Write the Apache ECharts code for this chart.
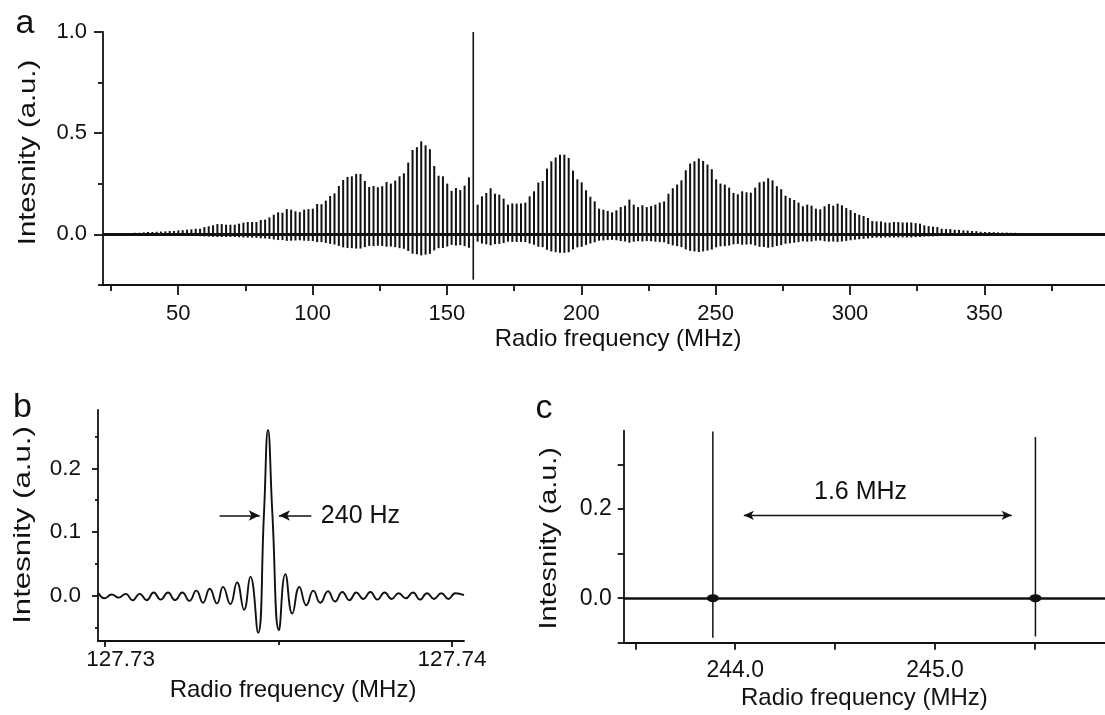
<!DOCTYPE html>
<html>
<head>
<meta charset="utf-8">
<script src="https://cdn.jsdelivr.net/npm/echarts@6.0.0/dist/echarts.min.js"></script>
<style>
html,body{margin:0;padding:0;background:#fff;}
#chart{width:1105px;height:715px;}
</style>
</head>
<body>
<div id="chart"></div>
<script>
// ---------------- Panel a: comb spectrum ----------------
const combStartMHz = 22.61;     // first comb line
const combSpacingMHz = 1.614;   // comb line spacing (1.6 MHz)
// positive excursion of each comb line (a.u.), ascending frequency; null = carrier position
const combTop = [
  0.004,0.004,0.004,0.005,0.005,0.006,0.007,0.008,0.008,0.010,
  0.012,0.012,0.013,0.014,0.015,0.017,0.017,0.020,0.021,0.023,
  0.025,0.028,0.028,0.036,0.040,0.045,0.051,0.051,0.048,0.048,
  0.048,0.053,0.058,0.061,0.061,0.061,0.071,0.073,0.084,0.097,
  0.109,0.107,0.125,0.122,0.114,0.110,0.122,0.125,0.127,0.150,
  0.149,0.167,0.190,0.203,0.239,0.269,0.284,0.287,0.299,0.299,
  0.264,0.234,0.239,0.233,0.238,0.259,0.251,0.266,0.287,0.302,
  0.355,0.417,0.431,0.460,0.440,0.421,0.338,0.290,0.287,
  0.251,0.215,0.229,0.219,0.241,0.282,
  null,
  0.147,0.188,0.205,0.228,0.201,0.196,0.177,0.147,0.153,0.152,
  0.153,0.157,0.188,0.213,0.256,0.264,0.325,0.361,0.380,0.394,
  0.394,0.378,0.315,0.272,0.257,0.218,0.186,0.163,0.127,0.122,
  0.116,0.109,
  0.119,0.135,0.142,0.172,0.147,0.135,0.144,0.135,0.140,0.147,
  0.157,0.163,0.201,0.228,0.246,0.267,0.317,0.350,0.361,0.375,
  0.363,0.345,0.322,0.272,0.251,0.246,0.231,0.205,0.198,0.213,
  0.208,0.206,0.231,0.257,0.261,0.277,0.267,0.238,0.223,
  0.191,0.180,0.170,0.157,0.139,0.147,0.142,0.127,0.124,0.139,
  0.150,0.142,0.152,0.144,0.130,0.120,0.106,0.097,0.091,0.081,
  0.066,0.064,0.064,0.059,0.058,0.061,0.061,0.059,0.059,0.059,
  0.056,0.053,0.045,0.041,0.038,0.036,0.028,0.026,0.026,
  0.023,0.022,0.020,0.019,0.017,0.016,0.013,0.012,0.012,0.011,
  0.010,0.009,0.009,0.008,0.008,0.007,0.007,0.006,0.006,0.006,
  0.005,0.005,0.005,0.004,0.004,0.004,0.004,0.003,0.003,0.003,
  0.003,0.003,0.002,0.002,0.002
];
// negative excursion of each comb line (a.u.)
const combBottom = [
  -0.002,-0.002,-0.002,-0.002,-0.002,-0.002,-0.003,-0.003,-0.003,-0.003,
  -0.004,-0.004,-0.004,-0.005,-0.005,-0.005,-0.006,-0.006,-0.007,-0.007,
  -0.008,-0.008,-0.009,-0.010,-0.011,-0.012,-0.013,-0.013,-0.013,-0.013,
  -0.013,-0.014,-0.015,-0.016,-0.016,-0.017,-0.019,-0.020,-0.022,-0.025,
  -0.028,-0.028,-0.032,-0.031,-0.030,-0.029,-0.031,-0.032,-0.033,-0.038,
  -0.038,-0.042,-0.047,-0.050,-0.057,-0.064,-0.067,-0.068,-0.070,-0.070,
  -0.063,-0.057,-0.058,-0.056,-0.057,-0.061,-0.060,-0.063,-0.068,-0.071,
  -0.082,-0.095,-0.098,-0.104,-0.100,-0.096,-0.079,-0.068,-0.067,
  -0.060,-0.052,-0.055,-0.053,-0.058,-0.066,
  null,
  -0.036,-0.045,-0.049,-0.054,-0.048,-0.047,-0.043,-0.036,-0.037,-0.037,
  -0.037,-0.038,-0.045,-0.051,-0.061,-0.063,-0.076,-0.084,-0.088,-0.091,
  -0.091,-0.088,-0.074,-0.064,-0.061,-0.052,-0.045,-0.039,-0.031,-0.030,
  -0.028,-0.027,
  -0.029,-0.033,-0.035,-0.041,-0.036,-0.033,-0.035,-0.033,-0.034,-0.036,
  -0.038,-0.039,-0.048,-0.054,-0.058,-0.063,-0.074,-0.081,-0.084,-0.087,
  -0.084,-0.080,-0.075,-0.064,-0.059,-0.058,-0.055,-0.049,-0.047,-0.051,
  -0.050,-0.049,-0.055,-0.061,-0.062,-0.066,-0.063,-0.057,-0.053,
  -0.046,-0.044,-0.041,-0.038,-0.034,-0.036,-0.035,-0.031,-0.030,-0.034,
  -0.036,-0.035,-0.037,-0.035,-0.032,-0.029,-0.026,-0.024,-0.022,-0.020,
  -0.017,-0.016,-0.016,-0.015,-0.015,-0.015,-0.015,-0.015,-0.015,-0.015,
  -0.014,-0.013,-0.011,-0.010,-0.010,-0.009,-0.007,-0.007,-0.007,
  -0.006,-0.006,-0.005,-0.005,-0.005,-0.004,-0.004,-0.004,-0.004,-0.003,
  -0.003,-0.003,-0.003,-0.003,-0.002,-0.002,-0.002,-0.002,-0.002,-0.002,
  -0.002,-0.002,-0.002,-0.001,-0.001,-0.001,-0.001,-0.001,-0.001,-0.001,
  -0.001,-0.001,-0.001,-0.001,-0.001
];
// strong single line near 160 MHz
const carrierFreq = [159.8];
const carrierTop = [1.0];
const carrierBottom = [-0.224];
const aXMajorTicks = [50,100,150,200,250,300,350];
const aXMinorTicks = [25,75,125,175,225,275,325,375];
const aYMajorTicks = [0,0.5,1.0];
const aYMinorTicks = [-0.25,0.25,0.75];

// ---------------- Panel b: single line ----------------
const bFreqMHz = [
  127.729827,127.730000,127.730202,127.730403,127.730605,127.730806,127.731008,127.731209,
  127.731411,127.731612,127.731823,127.732025,127.732236,127.732438,127.732639,127.732831,
  127.733023,127.733234,127.733407,127.733618,127.733810,127.734012,127.734194,127.734415,
  127.734587,127.734702,127.734827,127.735019,127.735202,127.735403,127.735605,127.735806,
  127.736008,127.736209,127.736430,127.736631,127.736843,127.737044,127.737246,127.737447,
  127.737649,127.737850,127.738061,127.738263,127.738464,127.738666,127.738877,127.739079,
  127.739280,127.739482,127.739693,127.739894,127.740096,127.740345
];
const bIntensity = [
  0.004,-0.004,0.002,-0.003,0.003,-0.007,0.003,-0.007,
  0.005,-0.006,0.005,-0.007,0.005,-0.008,0.008,-0.011,
  0.011,-0.012,0.014,-0.013,0.021,-0.022,0.030,-0.058,
  0.130,0.260,0.130,-0.054,0.034,-0.028,0.014,-0.015,
  0.008,-0.011,0.007,-0.009,0.006,-0.007,0.005,-0.005,
  0.006,-0.006,0.005,-0.005,0.004,-0.004,0.005,-0.006,
  0.004,-0.005,0.004,-0.005,0.004,0.001
];
const bXMajorTicks = [127.73,127.74];
const bXMinorTicks = [127.735];
const bYMajorTicks = [0,0.1,0.2];
const bYMinorTicks = [-0.05,0.05,0.15,0.25];
// FWHM annotation: arrows [fromX, toX, y]
const bArrows = [[127.733311,127.734463,0.126],[127.735950,127.735019,0.126]];
const bNote = {text:'240 Hz', x:127.736209, y:0.125};

// ---------------- Panel c: two comb lines ----------------
const cSpikeFreq = [243.888,245.502];
const cSpikeTop = [0.374,0.362];
const cSpikeBottom = [-0.089,-0.086];
const cXTicks = [243.5,244.0,244.5,245.0,245.5];
const cXLabels = [244.0,245.0];
const cYTicks = [-0.1,0,0.1,0.2,0.3];
const cYLabels = [0,0.2];
const cArrow = [244.043,245.383,0.186];
const cNote = {text:'1.6 MHz', x:244.627, y:0.239};

// ---------------- build ----------------
const FONT = 'Liberation Sans, Arial, sans-serif';
const INK = '#111';
const CLEAR = 'rgba(0,0,0,0)';

const combData = [];
for (let i = 0; i < combTop.length; i++) {
  if (combTop[i] === null) continue;
  combData.push([combStartMHz + i * combSpacingMHz, combTop[i], combBottom[i]]);
}
const carrierData = carrierFreq.map((f,i)=>[f, carrierTop[i], carrierBottom[i]]);
const bData = bFreqMHz.map((f,i)=>[f, bIntensity[i]]);
const cData = cSpikeFreq.map((f,i)=>[f, cSpikeTop[i], cSpikeBottom[i]]);

function vline(width){
  return function(params, api){
    const x = api.value(0), t = api.value(1), b = api.value(2);
    const p1 = api.coord([x,t]), p2 = api.coord([x,b]);
    return {type:'line', shape:{x1:p1[0],y1:p1[1],x2:p2[0],y2:p2[1]},
            style:{stroke:INK, lineWidth:width}};
  };
}

const AXW = 1.8;
function xAx(o){
  return Object.assign({
    type:'value', position:'bottom', offset:0, splitLine:{show:false},
    axisLine:{show:true, onZero:false, lineStyle:{color:INK, width:AXW}},
    axisTick:{show:true, inside:false, lineStyle:{color:INK, width:AXW}},
    axisLabel:{show:false, color:INK, fontFamily:FONT},
    nameLocation:'middle',
    nameTextStyle:{color:INK, fontFamily:FONT, fontSize:24}
  }, o);
}
function yAx(o){
  return Object.assign({
    type:'value', position:'left', offset:0, splitLine:{show:false},
    axisLine:{show:true, onZero:false, lineStyle:{color:INK, width:AXW}},
    axisTick:{show:true, inside:false, lineStyle:{color:INK, width:AXW}},
    axisLabel:{show:false, color:INK, fontFamily:FONT}
  }, o);
}
function tick(len, vals){ return {show:true, length:len, customValues:vals, lineStyle:{color:INK, width:AXW}}; }

const noteLabel = (pos) => ({show:true, position:pos, distance:0, formatter:'{b}', fontSize:25,
  fontFamily:FONT, color:INK, opacity:1});

const option = {
  animation:false,
  backgroundColor:'#fff',
  grid:[
    {left:103, top:32, width:1002, height:253},
    {left:98, top:410, width:366, height:231},
    {left:623.7, top:430.7, width:481.3, height:212}
  ],
  xAxis:[
    xAx({gridIndex:0, min:22.0, max:394.9, axisTick:tick(10, aXMajorTicks),
      axisLabel:{show:true, customValues:aXMajorTicks, fontSize:22, margin:17.5, color:INK, fontFamily:FONT},
      name:'Radio frequency (MHz)', nameGap:42,
      nameTextStyle:{color:INK, fontFamily:FONT, fontSize:24, padding:[0,0,0,28]}}),
    xAx({gridIndex:0, min:22.0, max:394.9, axisLine:{show:false, onZero:false}, axisTick:tick(6, aXMinorTicks)}),
    xAx({gridIndex:1, min:127.729808, max:127.740345, axisTick:tick(6, bXMajorTicks),
      axisLabel:{show:true, customValues:bXMajorTicks, fontSize:22.5, margin:7.5, color:INK, fontFamily:FONT,
        formatter:function(v){ return v < 127.735 ? '{s|'+v.toFixed(2)+'}' : v.toFixed(2); },
        rich:{s:{padding:[0,0,0,32], fontSize:22.5, color:INK, fontFamily:FONT}}},
      name:'Radio frequency (MHz)', nameGap:37.5,
      nameTextStyle:{color:INK, fontFamily:FONT, fontSize:24, padding:[0,0,0,24]}}),
    xAx({gridIndex:1, min:127.729808, max:127.740345, axisLine:{show:false, onZero:false}, axisTick:tick(4, bXMinorTicks)}),
    xAx({gridIndex:2, min:243.442, max:245.85, axisTick:tick(7, cXTicks),
      axisLabel:{show:true, customValues:cXLabels, fontSize:23, margin:16, color:INK, fontFamily:FONT,
        formatter:function(v){ return v.toFixed(1); }},
      name:'Radio frequency (MHz)', nameGap:43.5})
  ],
  yAxis:[
    yAx({gridIndex:0, min:-0.25, max:1.0, axisTick:tick(9, aYMajorTicks),
      axisLabel:{show:true, customValues:aYMajorTicks, fontSize:22, margin:16, color:INK, fontFamily:FONT,
        formatter:function(v){ return v.toFixed(1); }}}),
    yAx({gridIndex:0, min:-0.25, max:1.0, axisLine:{show:false, onZero:false}, axisTick:tick(5, aYMinorTicks)}),
    yAx({gridIndex:1, min:-0.071, max:0.2915, axisTick:tick(6, bYMajorTicks),
      axisLabel:{show:true, customValues:bYMajorTicks, fontSize:22.5, margin:17, color:INK, fontFamily:FONT,
        formatter:function(v){ return v.toFixed(1); }}}),
    yAx({gridIndex:1, min:-0.071, max:0.2915, axisLine:{show:false, onZero:false}, axisTick:tick(3, bYMinorTicks)}),
    yAx({gridIndex:2, min:-0.1, max:0.376, axisTick:tick(6, cYTicks),
      axisLabel:{show:true, customValues:cYLabels, fontSize:23, margin:12, color:INK, fontFamily:FONT,
        formatter:function(v){ return v.toFixed(1); }}})
  ],
  graphic:[
    {type:'text', x:15.6, y:24, style:{text:'a', fontSize:34, fontFamily:FONT, fill:INK, align:'left', verticalAlign:'middle'}},
    {type:'text', x:13, y:407.2, style:{text:'b', fontSize:34, fontFamily:FONT, fill:INK, align:'left', verticalAlign:'middle'}},
    {type:'text', x:535.5, y:409, style:{text:'c', fontSize:34, fontFamily:FONT, fill:INK, align:'left', verticalAlign:'middle'}},
    {type:'text', x:28.3, y:152.5, rotation:Math.PI/2, scaleX:1.22,
      style:{text:'Intesnity (a.u.)', fontSize:24, fontFamily:FONT, fill:INK, align:'center', verticalAlign:'middle'}},
    {type:'text', x:23.4, y:525, rotation:Math.PI/2, scaleX:1.3,
      style:{text:'Intesnity (a.u.)', fontSize:24, fontFamily:FONT, fill:INK, align:'center', verticalAlign:'middle'}},
    {type:'text', x:549.6, y:538.3, rotation:Math.PI/2, scaleX:1.2,
      style:{text:'Intesnity (a.u.)', fontSize:24, fontFamily:FONT, fill:INK, align:'center', verticalAlign:'middle'}}
  ],
  series:[
    // panel a comb
    {type:'custom', xAxisIndex:0, yAxisIndex:0, renderItem:vline(2), data:combData, silent:true,
      markLine:{silent:true, symbol:'none', animation:false, label:{show:false},
        lineStyle:{color:INK, width:3, type:'solid'}, data:[{yAxis:0}]}},
    {type:'custom', xAxisIndex:0, yAxisIndex:0, renderItem:vline(1.6), data:carrierData, silent:true},
    // panel b
    {type:'line', xAxisIndex:2, yAxisIndex:2, data:bData, smooth:0.5, symbol:'none', silent:true,
      lineStyle:{color:INK, width:1.9},
      markLine:{silent:true, animation:false, symbol:['none','arrow'], symbolSize:[8,11], label:{show:false},
        lineStyle:{color:INK, width:1.5, type:'solid'},
        data:bArrows.map(a=>[{coord:[a[0],a[2]]},{coord:[a[1],a[2]]}])}},
    {type:'scatter', xAxisIndex:2, yAxisIndex:2, silent:true, symbolSize:1,
      itemStyle:{color:CLEAR, opacity:1},
      data:[{value:[bNote.x,bNote.y], name:bNote.text}],
      label:noteLabel('right')},
    // panel c
    {type:'custom', xAxisIndex:4, yAxisIndex:4, renderItem:vline(1.5), data:cData, silent:true,
      markLine:{silent:true, symbol:'none', animation:false, label:{show:false},
        lineStyle:{color:INK, width:2.6, type:'solid'}, data:[{yAxis:0}]}},
    {type:'scatter', xAxisIndex:4, yAxisIndex:4, silent:true, symbol:'circle', symbolSize:[12,8],
      itemStyle:{color:INK, opacity:1}, data:cSpikeFreq.map(f=>[f,0])},
    {type:'line', xAxisIndex:4, yAxisIndex:4, data:[], silent:true,
      markLine:{silent:true, animation:false, symbol:['arrow','arrow'], symbolSize:[7,10], label:{show:false},
        lineStyle:{color:INK, width:1.3, type:'solid'},
        data:[[{coord:[cArrow[0],cArrow[2]]},{coord:[cArrow[1],cArrow[2]]}]]}},
    {type:'scatter', xAxisIndex:4, yAxisIndex:4, silent:true, symbolSize:1,
      itemStyle:{color:CLEAR, opacity:1},
      data:[{value:[cNote.x,cNote.y], name:cNote.text}],
      label:noteLabel('inside')}
  ]
};

const chart = echarts.init(document.getElementById('chart'), null, {renderer:'canvas'});
chart.setOption(option);
</script>
</body>
</html>
